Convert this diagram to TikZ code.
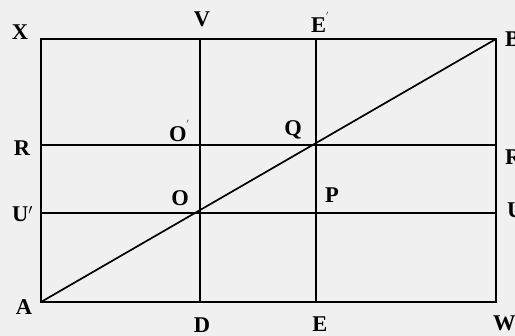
\documentclass[tikz,border=0pt]{standalone}
\usepackage{fontspec}
\setmainfont{Liberation Serif}
\usepackage{tikz}
\usetikzlibrary{calc}

\begin{document}
\begin{tikzpicture}[x=1pt, y=-1pt, lbl/.style={font=\fontsize{22.5}{24}\selectfont\bfseries, inner sep=0pt}, grid line/.style={line width=1.7pt}]
\useasboundingbox (0,0) rectangle (515,336);
\fill[black!6] (0,0) rectangle (515,336);

% corners of the box
\coordinate (A) at (41,302);
\coordinate (W) at (496,302);
\coordinate (B) at (496,39);
\coordinate (X) at (41,39);

% ends of the inner lines
\coordinate (Vt) at (200,39);
\coordinate (Dt) at (200,302);
\coordinate (Et) at (316,39);
\coordinate (Eb) at (316,302);
\coordinate (Rl) at (41,145);
\coordinate (Rr) at (496,145);
\coordinate (Ul) at (41,213);
\coordinate (Ur) at (496,213);

\draw[grid line] (A) -- (W) -- (B) -- (X) -- cycle;
\draw[grid line] (Vt) -- (Dt);
\draw[grid line] (Et) -- (Eb);
\draw[grid line] (Rl) -- (Rr);
\draw[grid line] (Ul) -- (Ur);
\draw[grid line] (A) -- (B);

\node[lbl] (lX) at (20,32) {X};
\node[lbl] (lV) at (202,19) {V};
\node[lbl, anchor=west] (lE1) at (311,22) {E\raisebox{1.4ex}{\fontsize{8}{8}\selectfont$'$}};
\node[lbl, anchor=west] (lB) at (505,39) {B};
\node[lbl] (lR) at (22,148) {R};
\node[lbl, anchor=west] (lR1) at (505,157) {R$'$};
\node[lbl, anchor=west] (lU1) at (12,214) {U$'$};
\node[lbl, anchor=west] (lU) at (507,210) {U};
\node[lbl] (lA) at (24,307) {A};
\node[lbl] (lD) at (202,325) {D};
\node[lbl] (lE) at (320,324) {E};
\node[lbl, anchor=west] (lW) at (493,323) {W};
\node[lbl, anchor=west] (lO1) at (169,131) {O\raisebox{1.4ex}{\fontsize{8}{8}\selectfont$'$}};
\node[lbl] (lQ) at (293,130) {Q};
\node[lbl] (lO) at (180,198) {O};
\node[lbl] (lP) at (332,195) {P};
\end{tikzpicture}
\end{document}
